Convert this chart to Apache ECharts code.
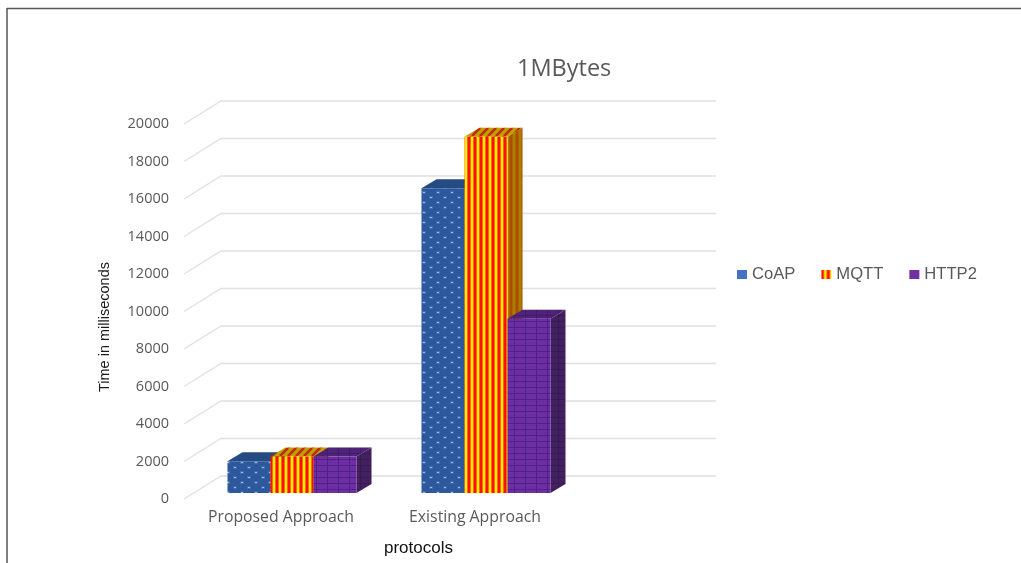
<!DOCTYPE html>
<html>
<head>
<meta charset="utf-8">
<style>html,body{margin:0;padding:0;background:#fff}#chart{width:1021px;height:563px}</style>
<script src="https://cdn.jsdelivr.net/npm/echarts@6/dist/echarts.min.js"></script>
</head>
<body>
<div id="chart"></div>
<script>
// Delivery time for a 1 MByte payload, per approach and protocol
const categories = ['Proposed Approach', 'Existing Approach', ''];
const coapValues = [1700, 16250, null];
const mqttValues = [1950, 19000, null];
const http2Values = [1950, 9300, null];
const yTicks = [0, 2000, 4000, 6000, 8000, 10000, 12000, 14000, 16000, 18000, 20000];

// Box geometry in pixels
const DEPTH_X = 15, DEPTH_Y = 9;
const BAR_W = 43;
const BAR_SHIFT_X = 11, BAR_SHIFT_Y = 6;
const WALL_X = 37, WALL_Y = 23, WALL_RIGHT_TRIM = 50;

function tile(w, h, paint) {
  const c = document.createElement('canvas');
  c.width = w; c.height = h;
  paint(c.getContext('2d'), w, h);
  return { image: c, repeat: 'repeat' };
}
function fillBase(g, w, h, col) { g.fillStyle = col; g.fillRect(0, 0, w, h); }
function dots(base, dot, soft) {
  return tile(14, 10, (g, w, h) => {
    fillBase(g, w, h, base);
    g.fillStyle = soft;
    g.fillRect(2, 1, 4, 3);
    g.fillRect(9, 6, 4, 3);
    g.fillStyle = dot;
    g.fillRect(3, 2, 2, 1);
    g.fillRect(10, 7, 2, 1);
  });
}
function vstripes(first, blend, second) {
  return tile(6, 4, (g, w, h) => {
    fillBase(g, w, h, blend);
    g.fillStyle = first; g.fillRect(0, 0, 2, h);
    g.fillStyle = second; g.fillRect(3, 0, 2, h);
  });
}
function dstripes(a, b) {
  return tile(8, 8, (g, w, h) => {
    fillBase(g, w, h, a);
    g.strokeStyle = b; g.lineWidth = 2.6;
    [-8, 0, 8, 16].forEach(o => {
      g.beginPath(); g.moveTo(o, h); g.lineTo(o + h, 0); g.stroke();
    });
  });
}
function weave(base, line) {
  return tile(11, 6, (g, w, h) => {
    fillBase(g, w, h, base);
    g.fillStyle = line;
    g.fillRect(0, 3, w, 1);
    g.fillRect(8, 0, 1, h);
  });
}

const skins = {
  coap: { front: dots('#2d589c', '#9db8e2', '#3f6cb0'), top: '#264a82', side: '#1f3d6e' },
  mqtt: { front: vstripes('#ff1000', '#ff6a00', '#ffee00'), top: dstripes('#c0a000', '#c22a00'), side: vstripes('#b04a00', '#aa6400', '#a88000') },
  http2: { front: weave('#6c2ea2', '#4f2088'), top: weave('#4f2379', '#421c68'), side: weave('#43205f', '#381b52') }
};

function boxSeries(name, values, skin, slot) {
  return {
    type: 'custom',
    name: name,
    z: 3 + slot,
    data: values.map((v, i) => [i, v]),
    encode: { x: 0, y: 1 },
    renderItem: (params, api) => {
      if (api.value(1) == null || isNaN(api.value(1))) return;
      const top = api.coord([api.value(0), api.value(1)]);
      const base = api.coord([api.value(0), 0]);
      const x0 = top[0] + BAR_SHIFT_X + (slot - 1.5) * BAR_W;
      const x1 = x0 + BAR_W;
      const y0 = base[1] - BAR_SHIFT_Y;
      const yt = top[1] - BAR_SHIFT_Y;
      const poly = (points, fill) => ({ type: 'polygon', shape: { points }, style: { fill } });
      return {
        type: 'group',
        children: [
          poly([[x1, yt], [x1 + DEPTH_X, yt - DEPTH_Y], [x1 + DEPTH_X, y0 - DEPTH_Y], [x1, y0]], skin.side),
          poly([[x0, yt], [x0 + DEPTH_X, yt - DEPTH_Y], [x1 + DEPTH_X, yt - DEPTH_Y], [x1, yt]], skin.top),
          poly([[x0, yt], [x1, yt], [x1, y0], [x0, y0]], skin.front)
        ]
      };
    }
  };
}

// Back wall rules and their diagonal run-in towards the value axis
const wallSeries = {
  type: 'custom',
  name: 'wall',
  silent: true,
  z: 1,
  data: yTicks.map(v => [0, v]),
  encode: { x: 0, y: 1 },
  renderItem: (params, api) => {
    const p = api.coord([0, api.value(1)]);
    const right = params.coordSys.x + params.coordSys.width - WALL_RIGHT_TRIM;
    const left = params.coordSys.x;
    return {
      type: 'polyline',
      shape: { points: [[left, p[1]], [left + WALL_X, p[1] - WALL_Y], [right, p[1] - WALL_Y]] },
      style: { fill: 'none', stroke: '#e0e0e0', lineWidth: 1.3 }
    };
  }
};

const chart = echarts.init(document.getElementById('chart'));
chart.setOption({
  animation: false,
  backgroundColor: '#ffffff',
  title: {
    text: '1MBytes',
    left: 512, top: 52,
    textStyle: { fontFamily: 'Open Sans', fontSize: 23.5, fontWeight: 'normal', color: '#595959' }
  },
  grid: { left: 184, top: 124, width: 582, height: 375 },
  legend: {
    left: 732, top: 261,
    itemWidth: 10, itemHeight: 9, itemGap: 26,
    icon: 'rect',
    textStyle: { fontFamily: 'Liberation Sans', fontSize: 16.6, color: '#595959' },
    data: [
      { name: 'CoAP', itemStyle: { color: '#4472c4' } },
      { name: 'MQTT', itemStyle: { color: vstripes('#ff1000', '#ff6a00', '#ffee00') } },
      { name: 'HTTP2', itemStyle: { color: '#7030a0' } }
    ]
  },
  xAxis: {
    type: 'category',
    data: categories,
    axisLine: { show: false },
    axisTick: { show: false },
    axisLabel: { interval: 0, hideOverlap: false, margin: 10, fontFamily: 'Open Sans', fontSize: 15.8, color: '#595959' }
  },
  yAxis: {
    type: 'value',
    min: 0, max: 20000, interval: 2000,
    splitLine: { show: false },
    axisLine: { show: false },
    axisTick: { show: false },
    axisLabel: { margin: 15, fontFamily: 'Open Sans', fontSize: 14.5, color: '#595959', formatter: v => String(v) }
  },
  series: [
    wallSeries,
    boxSeries('CoAP', coapValues, skins.coap, 0),
    boxSeries('MQTT', mqttValues, skins.mqtt, 1),
    boxSeries('HTTP2', http2Values, skins.http2, 2)
  ],
  graphic: [
    { type: 'text', x: 105, y: 327, rotation: Math.PI / 2, style: { text: 'Time in milliseconds', x: 0, y: 0, align: 'center', verticalAlign: 'middle', fontFamily: 'Liberation Sans', fontSize: 14.5, fill: '#1a1a1a' } },
    { type: 'text', left: 384, top: 540, style: { text: 'protocols', fontFamily: 'Liberation Sans', fontSize: 17, fill: '#111111' } },
    { type: 'line', shape: { x1: 7, y1: 8.5, x2: 1021, y2: 8.5 }, style: { stroke: '#555555', lineWidth: 1.5 } },
    { type: 'line', shape: { x1: 7, y1: 8, x2: 7, y2: 563 }, style: { stroke: '#555555', lineWidth: 1.5 } }
  ]
});
</script>
</body>
</html>
